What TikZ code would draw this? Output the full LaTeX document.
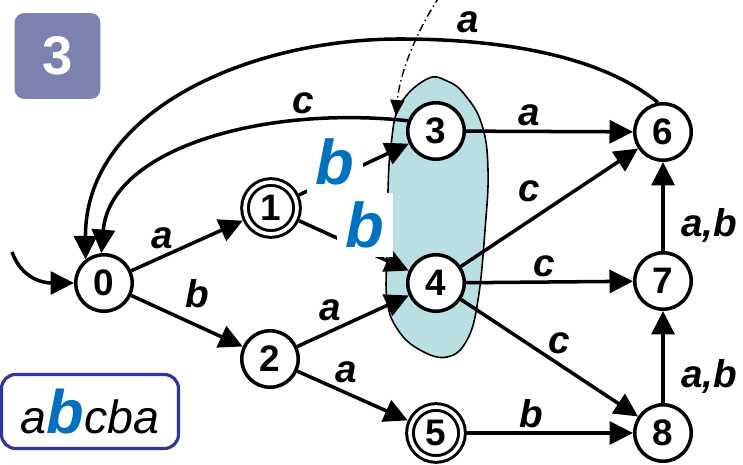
\documentclass[tikz,border=0pt]{standalone}
\usepackage{fontspec}
\setmainfont{Liberation Sans}
\usepackage{xcolor}
\usepackage{tikz}
\usetikzlibrary{positioning, arrows.meta, calc, backgrounds}

\definecolor{badgeblue}{RGB}{124,129,174}
\definecolor{wordblue}{RGB}{51,51,153}
\definecolor{readblue}{RGB}{0,112,192}
\definecolor{setfill}{RGB}{186,223,227}

\begin{document}
\begin{tikzpicture}[x=0.02cm, y=-0.02cm]
      \tikzstyle{state}=[circle, draw, line width=2pt, fill=white, minimum size=1.13cm, inner sep=0pt, font=\fontsize{21}{21}\selectfont\bfseries]
      \tikzstyle{acc}=[state, double, double distance=2.1pt, line width=1.7pt, minimum size=1.04cm, outer sep=2.8pt]
      \tikzstyle{trans}=[line width=2pt, -{Triangle[length=0.47cm, width=0.46cm]}]
      \tikzstyle{lbl}=[inner sep=0pt, font=\fontsize{22}{22}\selectfont\bfseries\itshape]
      \tikzstyle{readlbl}=[inner sep=5pt, fill=white, text=readblue, font=\fontsize{36}{36}\selectfont\bfseries\itshape]
      \tikzstyle{pointer}=[line width=0.8pt, dash pattern=on 4.5pt off 2pt on 0.8pt off 2pt, -{Triangle[length=0.32cm, width=0.28cm]}]
      \useasboundingbox (0,0) rectangle (743,465);
      % the set {3,4}
      \filldraw[fill=setfill, draw=black, line width=0.9pt] plot[smooth cycle, tension=0.7] coordinates {(427,79) (447,81) (465,95) (482,125) (488,170) (485,230) (478,300) (467,340) (447,357) (420,350) (398,330) (387,300) (387,250) (388,190) (391,145) (400,105)};
      \node[rectangle, rounded corners=5.7pt, fill=badgeblue, minimum width=1.72cm, minimum height=1.72cm, text=white, font=\fontsize{31}{31}\selectfont\bfseries] (badge) at (57.5,56) {3};
      \node[rectangle, rounded corners=8pt, draw=wordblue, line width=1.8pt, minimum width=3.54cm, minimum height=1.48cm] (word) at (90,411.5) {{\fontsize{26.5}{26}\selectfont\itshape a}{\fontsize{35}{35}\selectfont\bfseries\itshape\color{readblue}b}{\fontsize{26.5}{26}\selectfont\itshape cba}};
      \node[state] (q0) at (104,283) {0};
      \node[acc] (q1) at (271,208) {1};
      \node[state] (q2) at (270,359) {2};
      \node[state] (q3) at (436,131) {3};
      \node[state] (q4) at (436,283) {4};
      \node[acc] (q5) at (436,433) {5};
      \node[state] (q6) at (663,132) {6};
      \node[state] (q7) at (663,281) {7};
      \node[state] (q8) at (663,433) {8};
      \coordinate (init) at (12,252);
      \coordinate (ptr) at (440,-4);
      \coordinate (ptrtip) at (396,116);
      \draw[trans] (init) .. controls (22,280) and (45,283) .. (q0.west);
      \draw[trans] (q0) -- node[lbl, pos=.28, above=3.5pt] {a} (q1);
      \draw[trans] (q0) -- node[lbl, pos=.59, above=9pt] {b} (q2);
      \draw[trans] (q2) -- node[lbl, pos=.30, above=4.6pt] {a} (q4);
      \draw[trans] (q2) -- node[lbl, pos=.44, above=4.5pt] {a} (q5);
      \draw[trans] (q5) -- node[lbl, pos=.39, above=2pt] {b} (q8);
      \draw[trans] (q3) -- node[lbl, pos=.38, above=2pt] {a} (q6);
      \draw[trans] (q4) -- node[lbl, pos=.386, above=10pt] {c} (q6);
      \draw[trans] (q4) -- node[lbl, pos=.47, above=2pt] {c} (q7);
      \draw[trans] (q4) -- node[lbl, pos=.553, above=5pt] {c} (q8);
      \draw[trans] (q7) -- node[lbl, pos=.29, right=9.4pt] {a,b} (q6);
      \draw[trans] (q8) -- node[lbl, pos=.29, right=9.4pt] {a,b} (q7);
      \draw[trans] (q1) -- node[readlbl, pos=.33, yshift=9pt] {b} (q3);
      \draw[trans] (q1) -- node[readlbl, pos=.60, yshift=14.7pt] {b} (q4);
      % back edges to 0
      \draw[trans] (q6.100) .. controls (600,55) and (500,39) .. (400,39) node[lbl, pos=.77, above=4pt] {a}
            .. controls (250,39) and (85,110) .. (q0.128);
      \draw[trans] (q3.160) .. controls (260,105) and (110,150) .. (q0.95) node[lbl, pos=.24, above=2.5pt] {c};
      \draw[pointer] (ptr) .. controls (420,25) and (400,70) .. (ptrtip);
\end{tikzpicture}
\end{document}
